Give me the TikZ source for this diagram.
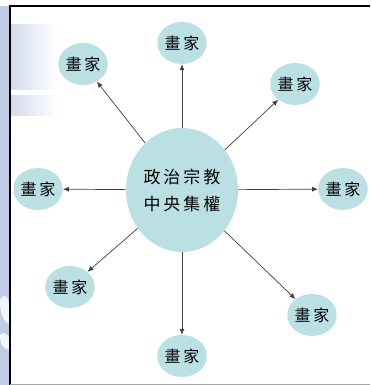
\documentclass[tikz,border=0pt]{standalone}
\usepackage{fontspec}
\newfontfamily\cjk{Noto Sans CJK TC}
\usetikzlibrary{shapes.geometric,arrows.meta}
\definecolor{nodefill}{RGB}{186,224,228}
\definecolor{deco}{RGB}{192,203,228}
\newcommand\cjkgap{\hspace{3pt}}
\newcommand\painter{畫\hspace{3pt}家}
\begin{document}
\begin{tikzpicture}[x=1pt,y=-1pt,
  small/.style={ellipse, fill=nodefill, minimum width=36pt, minimum height=42pt, inner sep=0pt, font=\cjk\fontsize{16}{18}\selectfont},
  big/.style={ellipse, fill=nodefill, minimum width=112pt, minimum height=124pt, inner sep=0pt, align=center, font=\cjk\fontsize{17}{27}\selectfont},
  link/.style={-{Latex[length=6pt,width=5pt]}, draw=black!75, line width=0.7pt}]
\useasboundingbox (0,0) rectangle (370,385);
% slide decoration on the left
\fill[deco] (0,6) rectangle (10,385);
\shade[left color=deco!70, right color=white] (10,25) rectangle (58,90);
\shade[left color=deco!70, right color=white] (10,96) rectangle (58,116);
\fill[white, opacity=0.8] (0,300) .. controls (6,290) and (10,300) .. (10,315) -- (10,325) .. controls (4,322) and (0,315) .. cycle;
\fill[white, opacity=0.8] (0,335) .. controls (5,330) and (10,335) .. (10,345) -- (10,350) .. controls (4,350) and (0,345) .. cycle;
% frame
\draw[line width=1.5pt] (10,385) -- (10,6) -- (370,6);
\draw[gray!70, line width=1pt] (10,384) -- (370,384);
% nodes
\node[big] (c) at (182,190) {政\cjkgap 治\cjkgap 宗\cjkgap 教\\中\cjkgap 央\cjkgap 集\cjkgap 權};
\node[small] (n) at (182,43) {\painter};
\node[small] (nw) at (83,64) {\painter};
\node[small] (ne) at (295,84) {\painter};
\node[small] (w) at (38,189) {\painter};
\node[small] (e) at (343,189) {\painter};
\node[small] (sw) at (70,287) {\painter};
\node[small] (se) at (312,315) {\painter};
\node[small] (s) at (182,356) {\painter};
% connectors
\foreach \t in {n,nw,ne,w,e,sw,se,s}
  \draw[link] (c) -- (\t);
\end{tikzpicture}
\end{document}
